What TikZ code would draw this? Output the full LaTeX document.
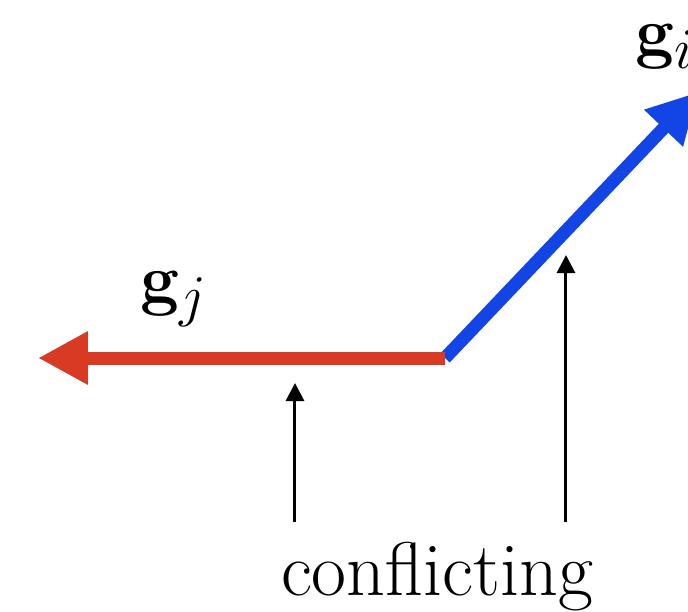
\documentclass[tikz,border=0pt]{standalone}
\usetikzlibrary{arrows.meta}
\definecolor{gred}{RGB}{216,58,36}
\definecolor{gblue}{RGB}{18,68,230}
\tikzset{
	grad/.style={line width=3.25pt,-{Triangle[length=12.5pt,width=12.5pt]}},
	pointer/.style={line width=0.75pt,-{Triangle[length=4.5pt,width=4.5pt]}},
	lbl/.style={inner sep=0pt,font=\fontsize{19}{23}\selectfont}
}
\begin{document}
\begin{tikzpicture}[x=0.25pt,y=-0.25pt]
\useasboundingbox (0,0) rectangle (688,612);

\begin{scope}
	\coordinate (o) at (445,358);
	\coordinate (tj) at (38,358);
	\coordinate (ti) at (698,92);
	%
	\coordinate (p1) at (295,522);
	\coordinate (q1) at (295,383);
	\coordinate (p2) at (566,522);
	\coordinate (q2) at (566,255);
\end{scope}

\node[lbl,anchor=base west] (gj) at (140,302) {$\mathbf{g}_j$};
\node[lbl,anchor=base west] (gi) at (635,55) {$\mathbf{g}_i$};
\node[lbl,anchor=base] (conf) at (437,595) {conflicting};

\draw[grad,gblue] (o) -- (ti);
\draw[grad,gred] (o) -- (tj);
\draw[pointer] (p1) -- (q1);
\draw[pointer] (p2) -- (q2);

\end{tikzpicture}
\end{document}
